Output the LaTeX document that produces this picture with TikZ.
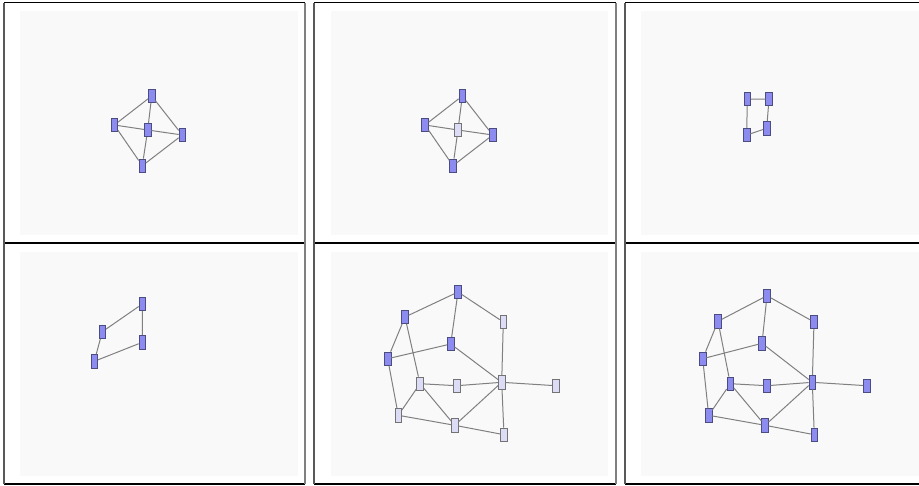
\documentclass[tikz,border=0pt]{standalone}
\definecolor{bgpanel}{HTML}{F9F9F9}
\definecolor{nodedark}{HTML}{8C8CF0}
\definecolor{nodelight}{HTML}{DCDCF6}
\definecolor{nodeborder}{HTML}{4C4C80}
\definecolor{edgegray}{HTML}{808080}
\tikzset{
  x=1pt, y=-1pt,
  vbox/.style={rectangle, draw=nodeborder, line width=0.7pt, fill=nodedark, minimum width=6.5pt, minimum height=13.5pt, inner sep=0pt},
  vlight/.style={vbox, fill=nodelight, draw=gray!90!black},
  link/.style={draw=edgegray, line width=1pt},
  area/.style={fill=bgpanel, draw=none},
}
\newcommand{\panelframe}[4]{%
  \fill[white] (#1,#2) rectangle (#3,#4);
  \draw[black, line width=1pt] (#1,#2) -- (#3,#2);
  \draw[black, line width=2pt] (#1,#4) -- (#3,#4);
  \draw[gray!70!black, line width=1.6pt] (#1,#2) -- (#1,#4);
  \draw[gray, line width=1.6pt] (#3,#2) -- (#3,#4);
}
\begin{document}
\begin{tikzpicture}
\useasboundingbox (0,0) rectangle (919,485);
\fill[white] (0,0) rectangle (919,485);
% frames
\panelframe{4}{2.5}{305}{242.5}
\panelframe{314}{2.5}{616}{242.5}
\panelframe{625}{2.5}{925}{242.5}
\panelframe{4}{243}{305}{483.5}
\panelframe{314}{243}{616}{483.5}
\panelframe{625}{243}{925}{483.5}
% gray areas
\fill[area] (20,11) rectangle (298,235);
\fill[area] (331,11) rectangle (608,235);
\fill[area] (641,11) rectangle (919,235);
\fill[area] (20,252) rectangle (298,476);
\fill[area] (331,252) rectangle (608,476);
\fill[area] (641,252) rectangle (919,476);

% ---------- Panel 1 ----------
\node[vbox] (p1t) at (151.7,96) {};
\node[vbox] (p1l) at (114.3,125) {};
\node[vbox] (p1c) at (147.7,130) {};
\node[vbox] (p1r) at (182.3,135) {};
\node[vbox] (p1b) at (142.3,165.7) {};
\path[link] (p1t) -- (p1l) (p1t) -- (p1c) (p1t) -- (p1r) (p1l) -- (p1c)
  (p1l) -- (p1b) (p1c) -- (p1r) (p1c) -- (p1b) (p1r) -- (p1b);

% ---------- Panel 2 ----------
\node[vbox] (p2t) at (462.3,96) {};
\node[vbox] (p2l) at (425,125) {};
\node[vlight] (p2c) at (458,130) {};
\node[vbox] (p2r) at (492.7,135) {};
\node[vbox] (p2b) at (453,165.7) {};
\path[link] (p2t) -- (p2l) (p2t) -- (p2c) (p2t) -- (p2r) (p2l) -- (p2c)
  (p2l) -- (p2b) (p2c) -- (p2r) (p2c) -- (p2b) (p2r) -- (p2b);

% ---------- Panel 3 ----------
\node[vbox] (p3a) at (747.3,99) {};
\node[vbox] (p3b) at (769,99) {};
\node[vbox] (p3c) at (766.7,128.3) {};
\node[vbox] (p3d) at (746.7,135) {};
\path[link] (p3a) -- (p3b) (p3a) -- (p3d) (p3b) -- (p3c) (p3d) -- (p3c);

% ---------- Panel 4 ----------
\node[vbox] (p4a) at (142.3,304) {};
\node[vbox] (p4b) at (142.3,342.3) {};
\node[vbox] (p4c) at (102.3,331.7) {};
\node[vbox] (p4d) at (94.3,361.3) {};
\path[link] (p4c) -- (p4a) (p4a) -- (p4b) (p4c) -- (p4d) (p4d) -- (p4b);

% ---------- Panel 5 ----------
\node[vbox]   (p5A) at (458,292) {};
\node[vbox]   (p5B) at (405,317) {};
\node[vlight] (p5C) at (503.3,322) {};
\node[vbox]   (p5D) at (450.7,344) {};
\node[vbox]   (p5E) at (387.7,358.7) {};
\node[vlight] (p5F) at (420,383.7) {};
\node[vlight] (p5G) at (456.7,385.7) {};
\node[vlight] (p5H) at (501.7,382.3) {};
\node[vlight] (p5I) at (555.7,385.7) {};
\node[vlight] (p5J) at (398.3,415.3) {};
\node[vlight] (p5K) at (454.7,425.3) {};
\node[vlight] (p5L) at (504,434.7) {};
\path[link] (p5A) -- (p5B) (p5A) -- (p5D) (p5A) -- (p5C) (p5B) -- (p5E)
  (p5B) -- (p5F) (p5D) -- (p5E) (p5D) -- (p5H) (p5C) -- (p5H)
  (p5F) -- (p5G) (p5G) -- (p5H) (p5H) -- (p5I) (p5H) -- (p5L)
  (p5H) -- (p5K) (p5F) -- (p5J) (p5F) -- (p5K) (p5E) -- (p5J)
  (p5J) -- (p5K) (p5K) -- (p5L);

% ---------- Panel 6 ----------
\node[vbox] (p6A) at (767,295.7) {};
\node[vbox] (p6B) at (718,321.3) {};
\node[vbox] (p6C) at (814,322) {};
\node[vbox] (p6D) at (762,343.3) {};
\node[vbox] (p6E) at (702.7,358.7) {};
\node[vbox] (p6F) at (730.3,383.7) {};
\node[vbox] (p6G) at (767,385.7) {};
\node[vbox] (p6H) at (812.3,382.3) {};
\node[vbox] (p6I) at (866.7,385.7) {};
\node[vbox] (p6J) at (708.7,415.3) {};
\node[vbox] (p6K) at (765,425.3) {};
\node[vbox] (p6L) at (814.3,434.7) {};
\path[link] (p6A) -- (p6B) (p6A) -- (p6D) (p6A) -- (p6C) (p6B) -- (p6E)
  (p6B) -- (p6F) (p6D) -- (p6E) (p6D) -- (p6H) (p6C) -- (p6H)
  (p6F) -- (p6G) (p6G) -- (p6H) (p6H) -- (p6I) (p6H) -- (p6L)
  (p6H) -- (p6K) (p6F) -- (p6J) (p6F) -- (p6K) (p6E) -- (p6J)
  (p6J) -- (p6K) (p6K) -- (p6L);
\end{tikzpicture}
\end{document}
